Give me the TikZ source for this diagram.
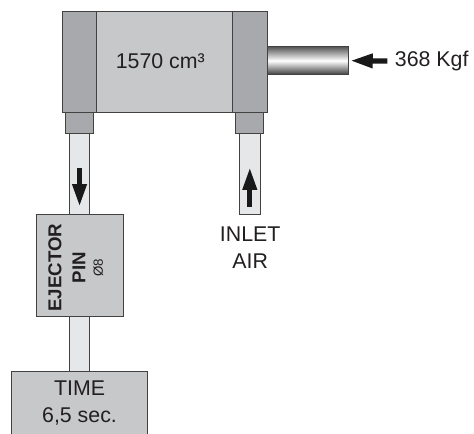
\documentclass[tikz,border=0pt]{standalone}
\usepackage{fontspec}
\setmainfont{Liberation Sans}
\usepackage{tikz}
\usetikzlibrary{arrows.meta,positioning}
\definecolor{bodygray}{HTML}{C6C8CA}
\definecolor{capgray}{HTML}{A7A9AC}
\definecolor{tubegray}{HTML}{E6E7E8}
\definecolor{inkgray}{HTML}{231F20}

\begin{document}
\begin{tikzpicture}[node distance=0pt,text=inkgray,
    part/.style={rectangle,draw=inkgray!85,line width=.7pt,outer sep=0pt,inner sep=0pt},
    body/.style={part,fill=bodygray},
    endcap/.style={part,fill=capgray},
    tube/.style={part,fill=tubegray,minimum width=15.4pt},
    force/.style={line width=4pt,draw=black!90,-{Triangle[length=17pt,width=10pt]}},
    caption/.style={font=\fontsize{16}{20}\selectfont,align=center,inner sep=0pt}]
    \useasboundingbox (0,0) rectangle (355.5pt,-324.75pt);
    % cylinder
    \node[endcap,minimum width=25.5pt,minimum height=76pt,anchor=north west] (capl) at (46.9pt,-8.6pt) {};
    \node[body,minimum width=102pt,minimum height=76pt,right=of capl] (cyl) {};
    \node[endcap,minimum width=25.9pt,minimum height=76pt,right=of cyl] (capr) {};
    \node[part,minimum width=60.75pt,minimum height=20.6pt,right=of capr,yshift=1.1pt,
          top color=black!65,bottom color=black!75,middle color=white] (rod) {};
    % ports and tubes
    \node[endcap,minimum width=21pt,minimum height=15.75pt,below=of capl] (portl) {};
    \node[endcap,minimum width=21pt,minimum height=15.75pt,below=of capr] (portr) {};
    \node[tube,minimum height=60.75pt,below=of portl] (tubel) {};
    \node[tube,minimum height=60.75pt,below=of portr] (tuber) {};
    \node[body,minimum width=65.25pt,minimum height=76.5pt,below=of tubel] (pin) {};
    \node[tube,minimum height=40.9pt,below=of pin] (tubet) {};
    \node[body,minimum width=102pt,minimum height=52.5pt,below=of tubet] (timer) {};
    % labels
    \node[caption,xshift=-3.2pt,yshift=.7pt] (cyltext) at (cyl) {1570 cm³};
    \node[caption,rotate=90,xshift=-1.5pt,yshift=2.8pt] (pintext) at (pin)
      {\fontsize{14}{17}\selectfont\bfseries EJECTOR\\[-2pt]
       \fontsize{14}{17}\selectfont\bfseries PIN\\[-7pt]
       \fontsize{10}{11}\selectfont Ø8};
    \node[caption,below=6.8pt of timer.north] (timetext) {TIME\\6,5 sec.};
    \node[caption,below=9pt of tuber.south,xshift=.3pt] (inlet) {INLET\\AIR};
    \node[caption,anchor=west] (kgf) at (296pt,-45.8pt) {368 Kgf};
    % force arrows
    \coordinate[below=25.5pt of tubel.north] (downa);
    \coordinate[above=6pt of tubel.south] (downb);
    \coordinate[above=6pt of tuber.south] (upa);
    \coordinate[below=25pt of tuber.north] (upb);
    \coordinate[left=5.5pt of kgf.west] (pusha);
    \coordinate[right=1.5pt of rod.east] (pushb);
    \draw[force] (downa) -- (downb);
    \draw[force] (upa) -- (upb);
    \draw[force] (pusha) -- (pushb);
\end{tikzpicture}
\end{document}
